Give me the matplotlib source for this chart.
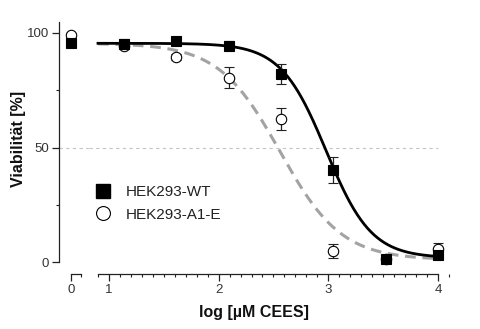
import matplotlib
matplotlib.use("Agg")
import matplotlib.pyplot as plt
from matplotlib.ticker import MultipleLocator, FixedLocator
from matplotlib.lines import Line2D
import numpy as np

plt.rcParams['font.family'] = ['Liberation Sans', 'DejaVu Sans']

# log [uM CEES] of the dilution series, control plotted at 0
log_conc = [1.137, 1.614, 2.092, 2.569, 3.046, 3.523, 4.0]
ctrl_x = [0.0]

wt_ctrl = [95.6]
wt_mean = [95.2, 96.6, 94.5, 82.0, 40.2, 1.3, 3.0]
wt_err = [2.0, 1.0, 2.0, 4.4, 5.7, 1.0, 1.0]

a1_ctrl = [99.1]
a1_mean = [94.5, 89.5, 80.5, 62.4, 4.8, 1.5, 5.5]
a1_err = [1.0, 1.5, 4.5, 4.8, 3.1, 1.0, 3.0]

# 4PL fits: bottom, top, logIC50, hill slope
wt_fit = (1.8, 95.5, 2.98, 2.1)
a1_fit = (1.0, 95.5, 2.56, 1.55)

labels = ["HEK293-WT", "HEK293-A1-E"]


def four_pl(x, p):
    bottom, top, ec, h = p
    return bottom + (top - bottom) / (1 + 10 ** (h * (x - ec)))


W, H = 480, 329
fig = plt.figure(figsize=(W / 100, H / 100), dpi=100)
ax0 = fig.add_axes([59 / W, 55 / H, 30 / W, 252 / H])
ax1 = fig.add_axes([89 / W, 55 / H, 361 / W, 252 / H], sharey=ax0)

ymin, ymax = -5.2, 104.8
ax0.set_ylim(ymin, ymax)
ax0.set_xlim(-0.11, 0.164)
ax1.set_xlim(0.818, 4.11)

tick_color = '#333333'
for ax in (ax0, ax1):
    for s in ax.spines.values():
        s.set_linewidth(0.9)
        s.set_color('#222222')
    ax.spines['top'].set_visible(False)
    ax.spines['right'].set_visible(False)
    ax.tick_params(which='major', direction='out', length=5, width=0.9,
                   labelsize=9.5, labelcolor=tick_color, color='#222222', pad=2)
    ax.tick_params(which='minor', direction='out', length=2.5, width=0.8,
                   color='#222222')

ax0.spines['left'].set_bounds(0, ymax)
ax0.spines['bottom'].set_bounds(0, 0.09)
ax0.xaxis.set_major_locator(FixedLocator([0]))
ax0.xaxis.set_minor_locator(FixedLocator([0.09]))
ax0.yaxis.set_major_locator(FixedLocator([0, 50, 100]))
ax0.yaxis.set_minor_locator(FixedLocator([25, 75]))

ax1.spines['left'].set_visible(False)
ax1.spines['bottom'].set_bounds(0.9, 4)
ax1.xaxis.set_major_locator(FixedLocator([1, 2, 3, 4]))
ax1.xaxis.set_minor_locator(MultipleLocator(0.1))
ax1.tick_params(axis='y', which='both', left=False, labelleft=False)

# reference line at 50 %
ax0.axhline(50, color='#c4c4c4', lw=0.8, ls=(0, (3, 3)), zorder=1)
ax1.hlines(50, 0.818, 4, color='#c4c4c4', lw=0.8, ls=(0, (3, 3)), zorder=1)

# fitted curves
xs = np.linspace(0.9, 4.0, 300)
ax1.plot(xs, four_pl(xs, a1_fit), color='#a3a3a3', lw=2.2,
         ls=(0, (3.5, 2.2)), zorder=2)
ax1.plot(xs, four_pl(xs, wt_fit), color='black', lw=2.0, zorder=3)

# data points
for ax, x, a1_y, a1_e, wt_y, wt_e in (
        (ax0, ctrl_x, a1_ctrl, [1.0], wt_ctrl, [1.0]),
        (ax1, log_conc, a1_mean, a1_err, wt_mean, wt_err)):
    ax.errorbar(x, a1_y, yerr=a1_e, fmt='o', ms=7.5, mfc='white', mec='black',
                mew=0.8, ecolor='#222222', elinewidth=0.9, capsize=3.5,
                capthick=0.9, zorder=4, clip_on=False)
    ax.errorbar(x, wt_y, yerr=wt_e, fmt='s', ms=7, mfc='black', mec='black',
                mew=0.8, ecolor='#222222', elinewidth=0.9, capsize=3.5,
                capthick=0.9, zorder=5, clip_on=False)

handles = [
    Line2D([], [], ls='none', marker='s', ms=9.5, mfc='black', mec='black'),
    Line2D([], [], ls='none', marker='o', ms=10, mfc='white', mec='black', mew=0.8),
]
fig.legend(handles, labels, loc='center left', bbox_to_anchor=(95 / W, 1 - 203.5 / H),
           frameon=False, fontsize=11, handlelength=1.0, handletextpad=1.0,
           labelspacing=0.55, borderpad=0, borderaxespad=0, labelcolor='#222222')

fig.text(254 / W, 1 - 312 / H, 'log [µM CEES]', ha='center', va='center',
         fontsize=11.5, fontweight='bold', color='#111111')
fig.text(19 / W, 1 - 139 / H, 'Viabilität [%]', ha='center', va='center',
         rotation=90, fontsize=11.5, fontweight='bold', color='#111111')

fig.savefig('out.png', dpi=100)
